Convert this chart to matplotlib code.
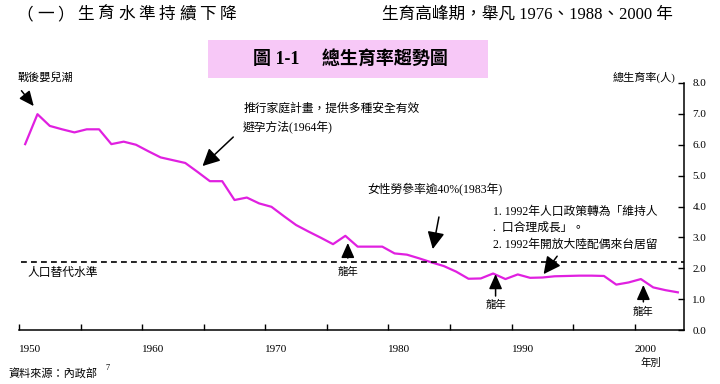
import numpy as np
import matplotlib.pyplot as plt
from matplotlib.patches import Rectangle

plt.rcParams['font.family'] = ['Liberation Serif', 'Noto Sans CJK TC', 'DejaVu Sans']

## Data: total fertility rate, Taiwan 1950-2003
years = np.arange(1950, 2004)
tfr = [6.02, 6.99, 6.61, 6.50, 6.40, 6.50, 6.50, 6.02, 6.10, 6.00,
       5.79, 5.59, 5.50, 5.41, 5.12, 4.82, 4.82, 4.21, 4.29, 4.10,
       3.99, 3.69, 3.40, 3.19, 2.99, 2.78, 3.05, 2.70, 2.70, 2.70,
       2.48, 2.44, 2.32, 2.19, 2.07, 1.89, 1.66, 1.67, 1.83, 1.65,
       1.80, 1.69, 1.70, 1.74, 1.75, 1.76, 1.76, 1.75, 1.47, 1.54,
       1.65, 1.38, 1.29, 1.22]
replacement = 2.2
dragon_years = [1976, 1988, 2000]
xtick_major = np.arange(1950, 2001, 5)
xtick_labels = ['1950', '', '1960', '', '1970', '', '1980', '', '1990', '', '2000']
yticks = np.arange(0, 9, 1)

W, H = 720, 384
fig = plt.figure(figsize=(W / 100, H / 100), dpi=100)

def fx(px):
    return px / W

def fy(py):
    return 1 - py / H

ax = fig.add_axes([fx(19), fy(330), fx(684 - 19), (330 - 83) / H])

# TFR line (points centred in each year)
ax.plot(years + 0.5, tfr, color='#E020E0', lw=1.6)

# replacement level
ax.plot([1950.2, 2004], [replacement, replacement], color='black', lw=1.2,
        ls=(0, (3.5, 2.5)))

ax.set_xlim(1950, 2004)
ax.set_ylim(0, 8)
for s in ['left', 'top']:
    ax.spines[s].set_visible(False)
ax.spines['bottom'].set_linewidth(1.1)
ax.spines['right'].set_linewidth(1.1)
ax.yaxis.tick_right()
ax.set_yticks(yticks)
ax.set_yticklabels(['%.1f' % v for v in yticks], fontsize=8)
ax.set_xticks(xtick_major)
ax.set_xticklabels(xtick_labels, fontsize=8, ha='left')
ax.tick_params(axis='both', direction='in', length=4, width=1)
ax.tick_params(axis='y', pad=6)
ax.tick_params(axis='x', pad=11)

arrow_big = dict(arrowstyle='-|>,head_length=0.8,head_width=0.4', color='black', lw=1.1,
                 shrinkA=0, shrinkB=0, mutation_scale=13)
arrow_small = dict(arrowstyle='-|>,head_length=0.9,head_width=0.4', color='black', lw=1.1,
                   shrinkA=0, shrinkB=0, mutation_scale=10)

# annotations
ax.text(1949.9, 8.19, '戰後嬰兒潮', fontsize=8, va='center', ha='left')
ax.annotate('', xy=(1951.2, 7.25), xytext=(1950.2, 7.75), arrowprops=arrow_small)

ax.text(1968.2, 7.18, '推行家庭計畫，提供多種安全有效', fontsize=8.5, va='center')
ax.text(1968.2, 6.54, '避孕方法(1964年)', fontsize=8.5, va='center')
ax.annotate('', xy=(1964.9, 5.31), xytext=(1967.4, 6.25), arrowprops=arrow_big)

ax.text(1978.3, 4.53, '女性勞參率逾40%(1983年)', fontsize=8.5, va='center')
ax.annotate('', xy=(1983.6, 2.62), xytext=(1984.1, 3.66), arrowprops=arrow_big)

ax.text(1988.5, 3.82, '1. 1992年人口政策轉為「維持人', fontsize=8.5, va='center')
ax.text(1988.5, 3.30, '.  口合理成長」。', fontsize=8.5, va='center')
ax.text(1988.5, 2.76, '2. 1992年開放大陸配偶來台居留', fontsize=8.5, va='center')
ax.annotate('', xy=(1992.6, 1.81), xytext=(1993.7, 2.39), arrowprops=arrow_big)

dragon_head = [2.82, 1.81, 1.46]
dragon_tail = [2.33, 1.10, 0.91]
dragon_text = [1.88, 0.81, 0.58]
for yr, hd, tl, tx in zip(dragon_years, dragon_head, dragon_tail, dragon_text):
    ax.annotate('', xy=(yr + 0.7, hd), xytext=(yr + 0.7, tl), arrowprops=arrow_small)
    ax.text(yr + 0.7, tx, '龍年', fontsize=7.5, ha='center', va='center')

ax.text(1950.65, 1.84, '人口替代水準', fontsize=8.5, va='center')
ax.text(2001.3, -1.07, '年別', fontsize=7.5, ha='center', va='center', clip_on=False)

# headers
left_header = '（一）生育水準持續下降'
for i, ch in enumerate(left_header):
    fig.text(fx(15 + 20.3 * i + 10), fy(15), ch, fontsize=12, ha='center', va='center')
fig.text(fx(382), fy(15), '生育高峰期，舉凡 1976、1988、2000 年', fontsize=12,
         ha='left', va='center')

fig.patches.append(Rectangle((fx(208), fy(78)), fx(280), 38 / H, transform=fig.transFigure,
                             facecolor='#F7C8F7', edgecolor='none', zorder=0))
fig.text(fx(350), fy(60), '圖 1-1　 總生育率趨勢圖', fontsize=13, fontweight='bold',
         ha='center', va='center')

fig.text(fx(613), fy(77), '總生育率(人)', fontsize=8, ha='left', va='center')
fig.text(fx(8), fy(373), '資料來源：內政部', fontsize=8, ha='left', va='center')
fig.text(fx(105), fy(368), '7', fontsize=6, ha='left', va='center')

fig.savefig('out.png', dpi=100)
